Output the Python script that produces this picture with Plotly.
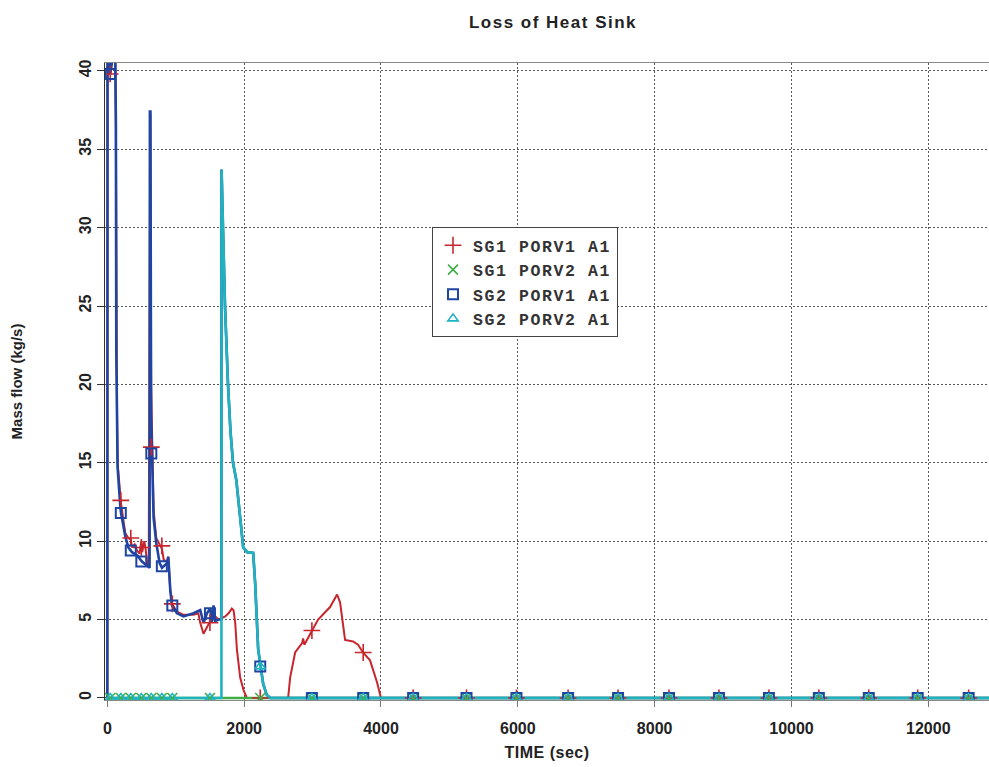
import plotly.graph_objects as go

# ---------------- data ----------------
series_names = ["SG1 PORV1 A1", "SG1 PORV2 A1", "SG2 PORV1 A1", "SG2 PORV2 A1"]

sg1_porv1_t = [0, 3, 25, 42, 100, 115, 125, 131, 142, 150, 190, 200, 263, 307, 343, 361, 400, 434, 470, 497,
               510, 540, 560, 580, 605, 620, 628, 640, 653, 676, 715, 764, 799, 825, 872, 891, 920, 945, 1018, 1114,
               1260, 1330, 1358, 1406, 1456, 1504, 1577, 1625, 1675, 1723, 1772, 1820, 1845, 1869, 1894, 1942, 1991,
               2040, 2643, 2672, 2745, 2847, 2862, 2880, 2993, 3081, 3256, 3358, 3402, 3475, 3592, 3665, 3737, 3840,
               3942, 4000, 13000]
sg1_porv1_v = [0, 41.5, 41.5, 39.8, 41.5, 41.5, 36.5, 22, 18, 15, 12.8, 12.4, 10.5, 10.2, 10.1, 9.6, 9.8, 9.4, 9.2, 10.0,
               9.3, 10.0, 9.5, 8.6, 8.5, 37, 37.3, 20, 16, 12, 10.2, 9.8, 9.5, 8.8, 8.7, 9.0, 6.9, 6.0, 5.5, 5.3,
               5.3, 5.4, 4.8, 4.1, 4.5, 4.9, 5.2, 5.0, 5.1, 5.2, 5.4, 5.7, 5.6, 4.8, 3.1, 1.3, 0.5,
               0, 0, 1.3, 2.9, 3.5, 3.8, 3.4, 4.3, 5.0, 5.8, 6.6, 6.1, 3.7, 3.6, 3.4, 2.9, 2.4,
               1.0, 0, 0]

sg1_porv2_t = [0, 13000]
sg1_porv2_v = [0, 0]

sg2_porv1_t = [0, 3, 25, 42, 100, 115, 125, 127, 131, 142, 150, 190, 200, 263, 307, 361, 434, 507, 580, 618,
               622, 630, 640, 653, 676, 715, 764, 799, 872, 891, 920, 945, 1018, 1114, 1260, 1358, 1406, 1456, 1504,
               1528, 1552, 1577, 1625, 1666, 1670, 1690, 1720, 1764, 1800, 1837, 1860, 1885, 1942, 1986, 2044, 2132,
               2161, 2205, 2278, 2330, 2380, 13000]
sg2_porv1_v = [0, 41.5, 41.5, 39.8, 41.5, 41.5, 36.7, 28.3, 22, 17.9, 14.7, 12.2, 11.8, 10.3, 9.6, 9.3, 9.1, 8.7, 8.4, 8.3,
               37.4, 37.4, 18, 15.4, 11.5, 9.9, 8.6, 8.3, 8.6, 9.0, 6.9, 5.9, 5.4, 5.2, 5.4, 5.6, 4.8, 5.4, 5.7,
               4.8, 5.9, 4.9, 5.0, 5.0, 33.7, 30, 25, 20, 17, 15, 14.4, 13.9, 11.5, 9.6, 9.3, 9.25,
               7.3, 3.1, 0.9, 0.2, 0, 0]

sg2_porv2_t = [0, 1668, 1670, 1690, 1720, 1764, 1800, 1837, 1860, 1885, 1942, 1986, 2044, 2132, 2161, 2205, 2278,
               2330, 2380, 13000]
sg2_porv2_v = [0, 0, 33.7, 30, 25, 20, 17, 15, 14.4, 13.9, 11.5, 9.6, 9.3, 9.25, 7.3, 3.1, 0.9,
               0.2, 0, 0]

# symbol positions (same sample times for every curve)
mark_t = [42, 197, 343, 497, 643, 797, 950, 1500, 2235, 2990, 3740, 4470, 5250, 5980, 6735, 7465, 8210, 8940,
          9670, 10400, 11130, 11845, 12590]
sg1_porv1_mark = [39.8, 12.6, 10.2, 9.6, 16.0, 9.7, 6.0, 4.8, 0, 4.3, 2.9, 0, 0, 0, 0, 0, 0, 0, 0, 0, 0, 0, 0]
sg1_porv2_mark = [0] * 23
sg2_porv1_mark = [39.8, 11.8, 9.4, 8.7, 15.6, 8.4, 5.9, 5.4, 2.0, 0, 0, 0, 0, 0, 0, 0, 0, 0, 0, 0, 0, 0, 0]
sg2_porv2_mark = [0, 0, 0, 0, 0, 0, 0, 0, 2.0, 0, 0, 0, 0, 0, 0, 0, 0, 0, 0, 0, 0, 0, 0]

x_ticks = [0, 2000, 4000, 6000, 8000, 10000, 12000]
y_ticks = [0, 5, 10, 15, 20, 25, 30, 35, 40]

# ---------------- styling ----------------
RED, GREEN, BLUE, CYAN = "#c8262e", "#3fae46", "#1f45a3", "#1fb3bf"
SANS = "Liberation Sans, Arial, sans-serif"
MONO = "Liberation Mono, Courier New, monospace"

fig = go.Figure()

line_specs = [
    (sg1_porv1_t, sg1_porv1_v, RED, 2.0),
    (sg1_porv2_t, sg1_porv2_v, GREEN, 2.5),
    (sg2_porv1_t, sg2_porv1_v, BLUE, 2.6),
    (sg2_porv2_t, sg2_porv2_v, CYAN, 2.6),
]
for t, v, c, w in line_specs:
    fig.add_trace(go.Scatter(x=t, y=v, mode="lines", line=dict(color=c, width=w),
                             showlegend=False, hoverinfo="skip"))

mark_specs = [
    (series_names[0], sg1_porv1_mark, RED, "cross-thin-open", 12, 1.6),
    (series_names[1], sg1_porv2_mark, GREEN, "x-thin-open", 10, 1.6),
    (series_names[2], sg2_porv1_mark, BLUE, "square-open", 10, 2.0),
    (series_names[3], sg2_porv2_mark, CYAN, "triangle-up-open", 9, 1.6),
]
for name, mv, c, sym, sz, lw in mark_specs:
    fig.add_trace(go.Scatter(x=mark_t, y=mv, mode="markers",
                             name="<span style='letter-spacing:1.6px'>" + name + "</span>",
                             marker=dict(symbol=sym, size=sz, color=c, line=dict(color=c, width=lw)),
                             hoverinfo="skip"))

fig.update_layout(
    width=989, height=767,
    margin=dict(l=105, r=0, t=63, b=67),
    paper_bgcolor="white", plot_bgcolor="white",
    title=dict(text="<span style='letter-spacing:1.5px'>Loss of Heat Sink</span>",
               x=553 / 989, xref="container", xanchor="center",
               y=1 - 22 / 767, yref="container", yanchor="middle",
               font=dict(family=SANS, size=17, color="#222", weight="bold")),
    legend=dict(x=(432 - 105) / 884, y=(700 - 227) / 637, xanchor="left", yanchor="top",
                bgcolor="white", bordercolor="#444", borderwidth=1,
                font=dict(family=MONO, size=16.5, color="#333", weight="bold"),
                tracegroupgap=0),
    showlegend=True,
)

fig.update_xaxes(
    range=[-34, 12887], tickvals=x_ticks, ticktext=[str(v) for v in x_ticks],
    showgrid=True, gridcolor="#555", griddash="2px,2px", gridwidth=1,
    zeroline=False, showline=True, linecolor="#888", linewidth=1, mirror=True,
    ticks="outside", ticklen=6, tickcolor="#777", ticklabelstandoff=8,
    tickfont=dict(family=SANS, size=16, color="#222", weight="bold"),
    title=dict(text="<span style='letter-spacing:0.5px'>TIME (sec)</span>", standoff=10,
               font=dict(family=SANS, size=16, color="#222", weight="bold")),
)
fig.update_yaxes(
    range=[-0.13, 40.5], tickvals=y_ticks, ticktext=[str(v) for v in y_ticks],
    showgrid=True, gridcolor="#555", griddash="2px,2px", gridwidth=1,
    zeroline=False, showline=True, linecolor="#333", linewidth=1, mirror=True,
    ticks="outside", ticklen=7, tickcolor="#333", tickangle=-90,
    tickfont=dict(family=SANS, size=16, color="#222", weight="bold"),
    title=dict(text="Mass flow (kg/s)", standoff=50,
               font=dict(family=SANS, size=15, color="#222", weight="bold")),
)

fig.write_html("out.html")
